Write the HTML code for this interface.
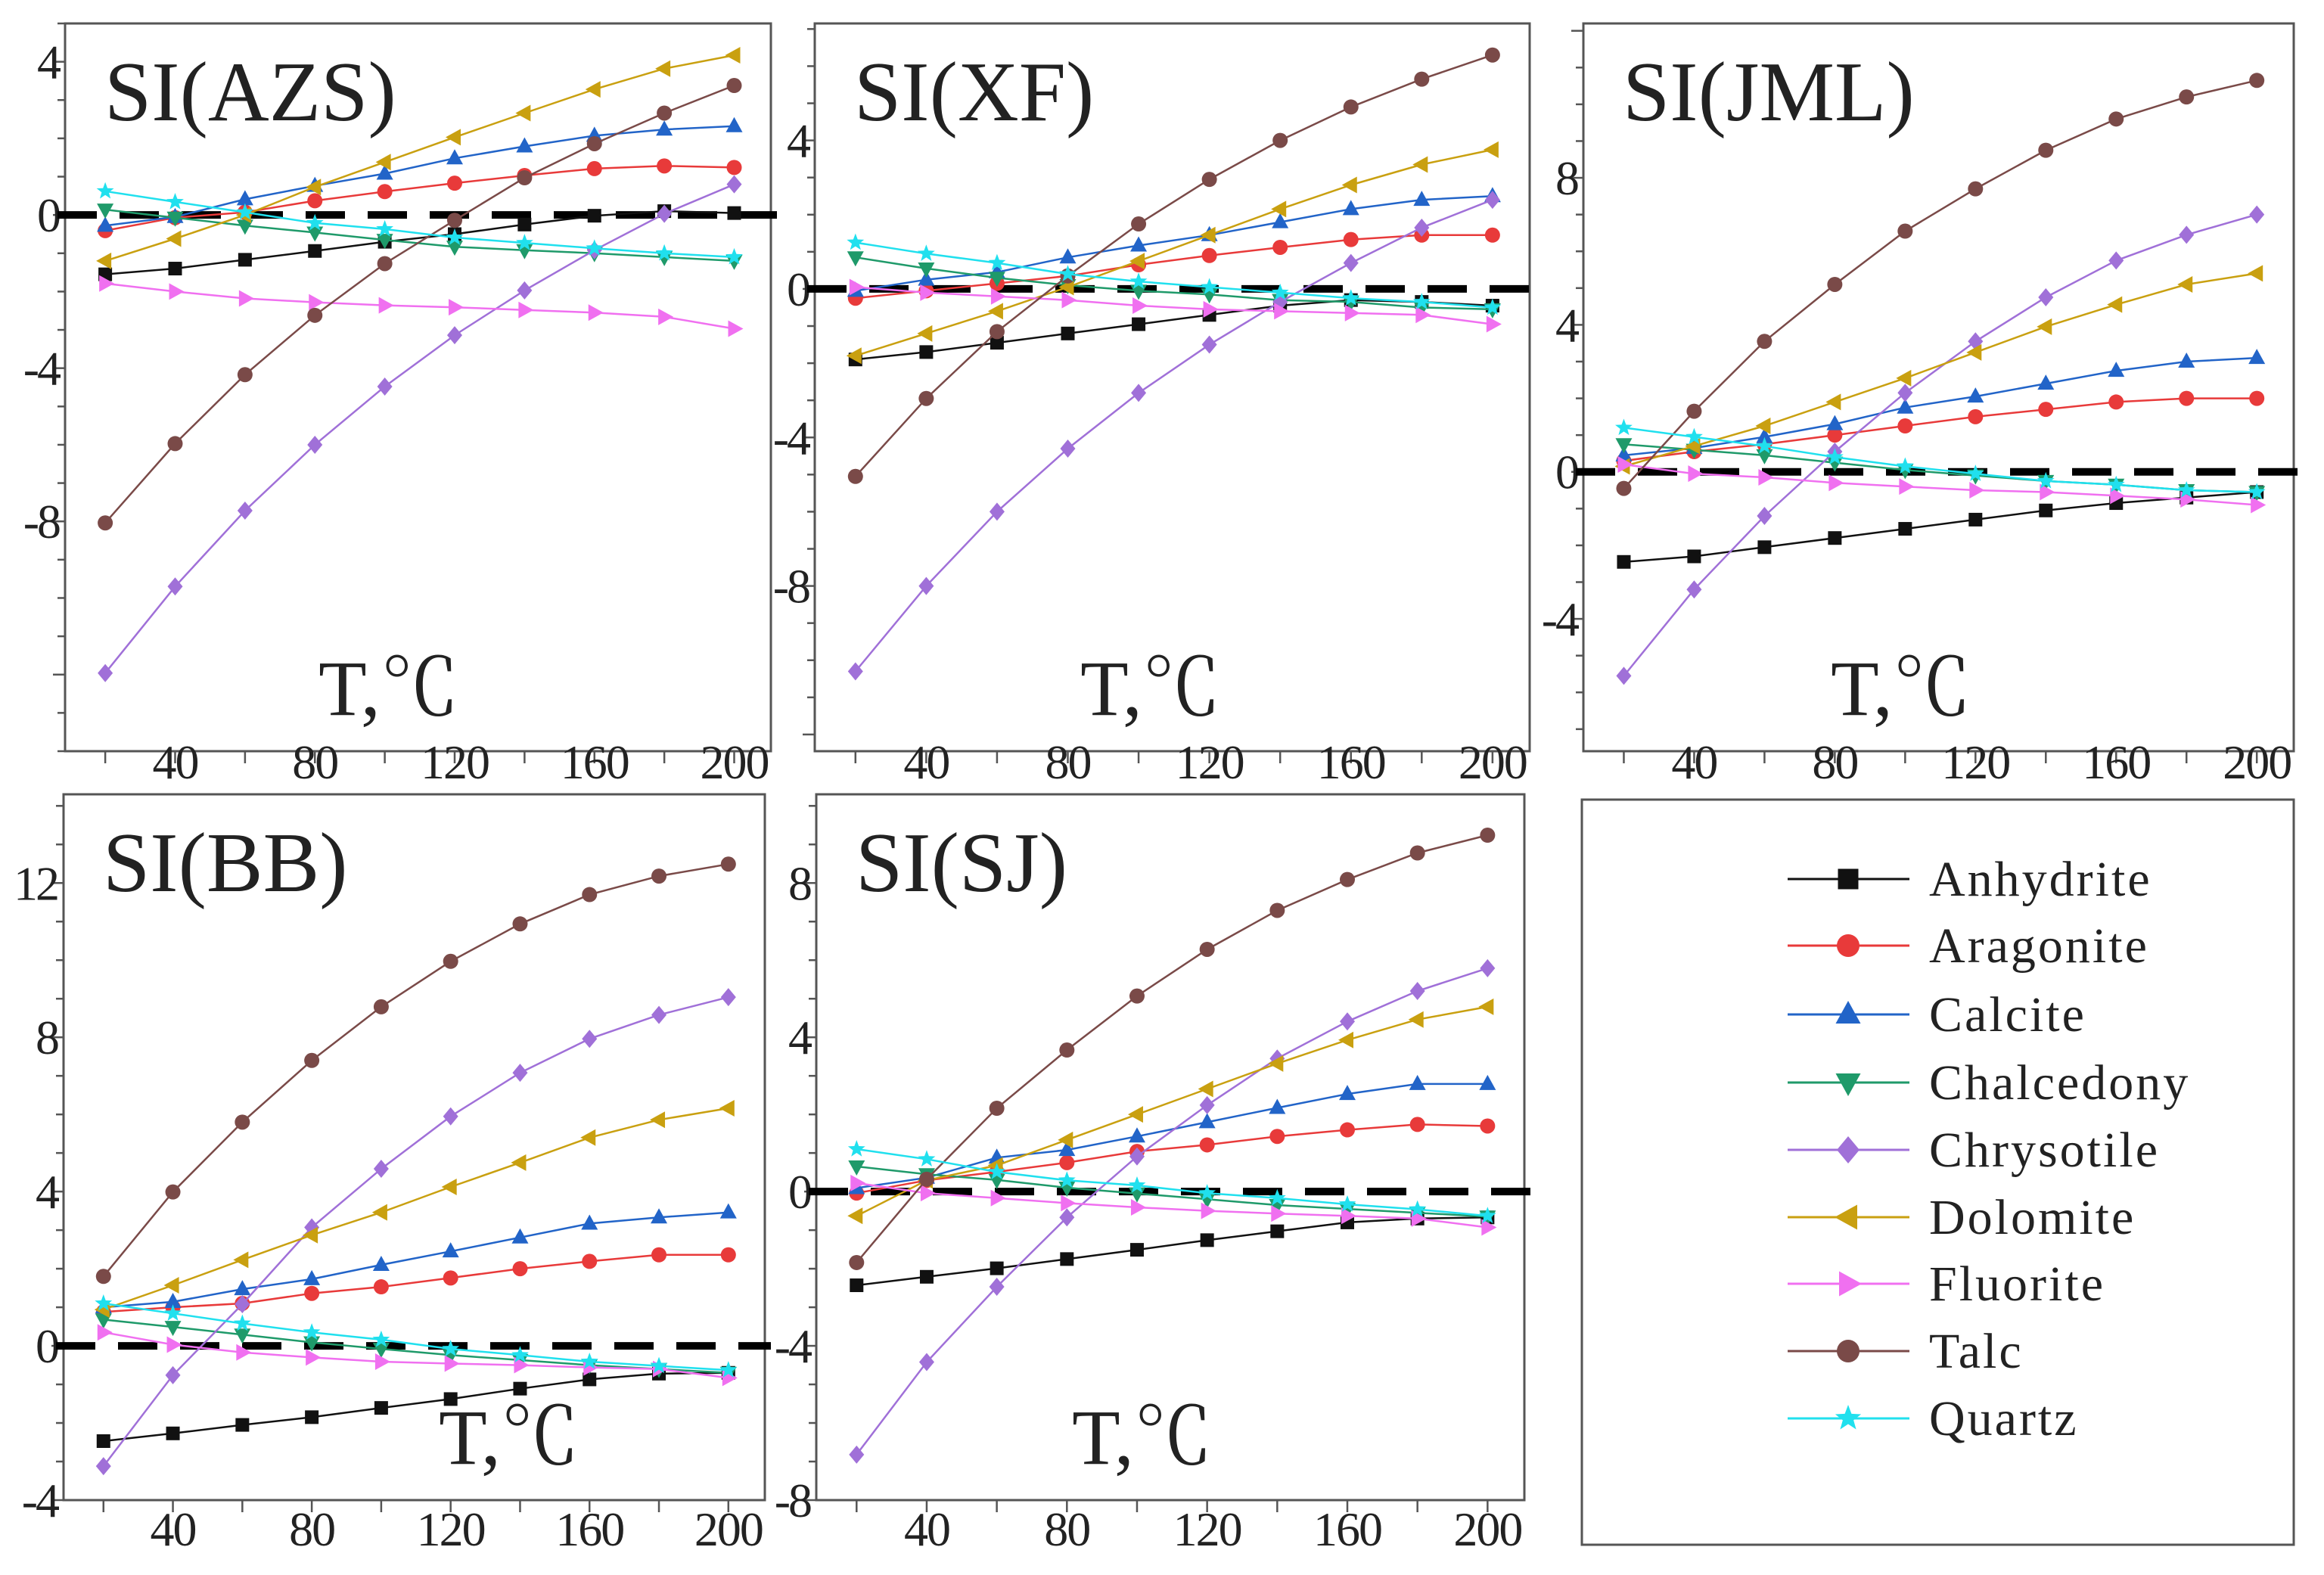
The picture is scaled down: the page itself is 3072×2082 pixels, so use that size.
<!DOCTYPE html>
<html><head><meta charset="utf-8">
<style>
html,body{margin:0;padding:0;background:#fff;}
svg{display:block;}
text{font-family:"Liberation Serif","Noto Serif CJK SC",serif;fill:#222;}
</style></head>
<body>
<svg id="fig" width="3072" height="2082" viewBox="0 0 3072 2082" xmlns="http://www.w3.org/2000/svg"></svg>
<script>
const temps = [20,40,60,80,100,120,140,160,180,200];
const minerals = ["Anhydrite","Aragonite","Calcite","Chalcedony","Chrysotile","Dolomite","Fluorite","Talc","Quartz"];
const xTickLabels = [40,80,120,160,200];
const panelNames = ["SI(AZS)","SI(XF)","SI(JML)","SI(BB)","SI(SJ)"];
const yTickLabelsAZS = [4,0,-4,-8];
const yTickLabelsXF = [4,0,-4,-8];
const yTickLabelsJML = [8,4,0,-4];
const yTickLabelsBB = [12,8,4,0,-4];
const yTickLabelsSJ = [8,4,0,-4,-8];

const azsAnhydrite=[-1.55,-1.4,-1.17,-0.94,-0.7,-0.5,-0.25,-0.02,0.1,0.05];
const azsAragonite=[-0.41,-0.07,0.07,0.37,0.61,0.83,1.03,1.21,1.28,1.24];
const azsCalcite=[-0.28,-0.05,0.41,0.76,1.08,1.48,1.79,2.07,2.23,2.32];
const azsChalcedony=[0.14,-0.07,-0.28,-0.46,-0.65,-0.83,-0.92,-1.0,-1.1,-1.2];
const azsChrysotile=[-11.96,-9.7,-7.72,-6.0,-4.48,-3.14,-1.97,-0.92,0.03,0.8];
const azsDolomite=[-1.2,-0.62,0,0.73,1.38,2.03,2.66,3.28,3.82,4.17];
const azsFluorite=[-1.79,-2.0,-2.18,-2.28,-2.36,-2.41,-2.48,-2.55,-2.66,-2.97];
const azsTalc=[-8.04,-5.97,-4.17,-2.62,-1.27,-0.14,0.97,1.86,2.66,3.38];
const azsQuartz=[0.62,0.34,0.07,-0.21,-0.37,-0.59,-0.73,-0.87,-1.0,-1.1];

const xfAnhydrite=[-1.9,-1.7,-1.45,-1.2,-0.95,-0.7,-0.45,-0.3,-0.35,-0.45];
const xfAragonite=[-0.25,-0.05,0.15,0.35,0.65,0.9,1.12,1.33,1.45,1.45];
const xfCalcite=[-0.05,0.25,0.45,0.85,1.17,1.45,1.8,2.15,2.4,2.5];
const xfChalcedony=[0.85,0.55,0.3,0.1,-0.05,-0.15,-0.3,-0.35,-0.5,-0.55];
const xfChrysotile=[-10.3,-8.0,-6.0,-4.3,-2.8,-1.5,-0.35,0.7,1.65,2.4];
const xfDolomite=[-1.8,-1.2,-0.6,0.05,0.75,1.45,2.15,2.8,3.35,3.75];
const xfFluorite=[0.05,-0.1,-0.2,-0.3,-0.45,-0.55,-0.6,-0.65,-0.7,-0.95];
const xfTalc=[-5.05,-2.95,-1.15,0.35,1.75,2.95,4.0,4.9,5.65,6.3];
const xfQuartz=[1.25,0.95,0.7,0.4,0.2,0.05,-0.1,-0.25,-0.35,-0.5];

const jmlAnhydrite=[-2.45,-2.3,-2.05,-1.8,-1.55,-1.3,-1.05,-0.85,-0.7,-0.55];
const jmlAragonite=[0.3,0.55,0.75,1.0,1.25,1.5,1.7,1.9,2.0,2.0];
const jmlCalcite=[0.45,0.65,0.95,1.3,1.75,2.05,2.4,2.75,3.0,3.1];
const jmlChalcedony=[0.75,0.6,0.45,0.25,0.05,-0.1,-0.25,-0.35,-0.5,-0.55];
const jmlChrysotile=[-5.55,-3.2,-1.2,0.55,2.15,3.55,4.75,5.75,6.45,7.0];
const jmlDolomite=[0.15,0.7,1.25,1.9,2.55,3.25,3.95,4.55,5.1,5.4];
const jmlFluorite=[0.2,-0.05,-0.15,-0.3,-0.4,-0.5,-0.55,-0.65,-0.75,-0.9];
const jmlTalc=[-0.45,1.65,3.55,5.1,6.55,7.7,8.75,9.6,10.2,10.65];
const jmlQuartz=[1.2,0.95,0.7,0.4,0.15,-0.05,-0.25,-0.35,-0.5,-0.55];

const bbAnhydrite=[-2.47,-2.27,-2.05,-1.85,-1.61,-1.38,-1.11,-0.87,-0.72,-0.7];
const bbAragonite=[0.88,1.0,1.1,1.36,1.53,1.76,2.0,2.19,2.36,2.36];
const bbCalcite=[1.0,1.14,1.47,1.73,2.1,2.45,2.81,3.17,3.33,3.46];
const bbChalcedony=[0.68,0.49,0.29,0.09,-0.08,-0.24,-0.37,-0.5,-0.6,-0.7];
const bbChrysotile=[-3.12,-0.76,1.08,3.07,4.59,5.95,7.08,7.96,8.58,9.04];
const bbDolomite=[0.94,1.57,2.23,2.87,3.46,4.12,4.75,5.4,5.86,6.16];
const bbFluorite=[0.35,0.03,-0.17,-0.3,-0.41,-0.46,-0.5,-0.56,-0.6,-0.83];
const bbTalc=[1.8,3.99,5.8,7.4,8.79,9.97,10.94,11.7,12.18,12.49];
const bbQuartz=[1.1,0.84,0.58,0.35,0.16,-0.08,-0.24,-0.41,-0.52,-0.63];

const sjAnhydrite=[-2.43,-2.21,-1.99,-1.75,-1.51,-1.26,-1.03,-0.8,-0.7,-0.67];
const sjAragonite=[-0.04,0.29,0.51,0.75,1.04,1.21,1.43,1.6,1.74,1.7];
const sjCalcite=[0.09,0.36,0.88,1.08,1.43,1.8,2.17,2.53,2.79,2.79];
const sjChalcedony=[0.65,0.45,0.3,0.1,-0.05,-0.2,-0.35,-0.45,-0.55,-0.65];
const sjChrysotile=[-6.82,-4.42,-2.47,-0.67,0.91,2.24,3.45,4.41,5.2,5.79];
const sjDolomite=[-0.63,0.29,0.68,1.34,2.0,2.66,3.32,3.93,4.46,4.79];
const sjFluorite=[0.22,-0.04,-0.17,-0.3,-0.41,-0.5,-0.57,-0.63,-0.7,-0.93];
const sjTalc=[-1.84,0.32,2.16,3.67,5.07,6.28,7.29,8.09,8.78,9.24];
const sjQuartz=[1.1,0.84,0.51,0.29,0.16,-0.04,-0.17,-0.33,-0.46,-0.63];

const NS="http://www.w3.org/2000/svg";
const SERIF='"Liberation Serif","Noto Serif CJK SC",serif';
const svg=document.getElementById('fig');
function mk(tag,attrs,parent){const e=document.createElementNS(NS,tag);for(const k in attrs)e.setAttribute(k,attrs[k]);(parent||svg).appendChild(e);return e;}

const colors=["#111111","#e83a3a","#2264c8","#1f9a6a","#a070d8","#c9a010","#f070f0","#7a4a48","#20e0ee"];
const shapes=["square","circle","up","down","diamond","left","right","circle","star"];

function marker(g,shape,x,y,s,color){
  let e;
  if(shape==="square") e=mk('rect',{x:x-s*0.45,y:y-s*0.45,width:s*0.9,height:s*0.9,fill:color},g);
  else if(shape==="circle") e=mk('circle',{cx:x,cy:y,r:s*0.5,fill:color},g);
  else {
    let pts;
    if(shape==="up") pts=[[x,y-s*0.6],[x+s*0.55,y+s*0.4],[x-s*0.55,y+s*0.4]];
    else if(shape==="down") pts=[[x,y+s*0.6],[x+s*0.55,y-s*0.4],[x-s*0.55,y-s*0.4]];
    else if(shape==="left") pts=[[x-s*0.6,y],[x+s*0.4,y-s*0.55],[x+s*0.4,y+s*0.55]];
    else if(shape==="right") pts=[[x+s*0.6,y],[x-s*0.4,y-s*0.55],[x-s*0.4,y+s*0.55]];
    else if(shape==="diamond") pts=[[x,y-s*0.6],[x+s*0.5,y],[x,y+s*0.6],[x-s*0.5,y]];
    else { pts=[]; for(let i=0;i<10;i++){const r=i%2?s*0.25:s*0.6;const a=-Math.PI/2+i*Math.PI/5;pts.push([x+r*Math.cos(a),y+r*Math.sin(a)]);} }
    e=mk('polygon',{points:pts.map(p=>p.join(',')).join(' '),fill:color},g);
  }
  return e;
}

const panels=[
 {key:"azs",name:panelNames[0],L:86,R:1019,T:31,B:993,ymin:-14,ymax:5,ticks:yTickLabelsAZS,series:[azsAnhydrite,azsAragonite,azsCalcite,azsChalcedony,azsChrysotile,azsDolomite,azsFluorite,azsTalc,azsQuartz],tx:428,lx:36},
 {key:"xf",name:panelNames[1],L:1077,R:2022,T:31,B:993,ymin:-12.45,ymax:7.15,ticks:yTickLabelsXF,series:[xfAnhydrite,xfAragonite,xfCalcite,xfChalcedony,xfChrysotile,xfDolomite,xfFluorite,xfTalc,xfQuartz],tx:444,lx:36},
 {key:"jml",name:panelNames[2],L:2093,R:3032,T:31,B:993,ymin:-7.6,ymax:12.2,ticks:yTickLabelsJML,series:[jmlAnhydrite,jmlAragonite,jmlCalcite,jmlChalcedony,jmlChrysotile,jmlDolomite,jmlFluorite,jmlTalc,jmlQuartz],tx:420,lx:36},
 {key:"bb",name:panelNames[3],L:84,R:1011,T:1050,B:1983,ymin:-4,ymax:14.3,ticks:yTickLabelsBB,series:[bbAnhydrite,bbAragonite,bbCalcite,bbChalcedony,bbChrysotile,bbDolomite,bbFluorite,bbTalc,bbQuartz],tx:589,lx:60},
 {key:"sj",name:panelNames[4],L:1079,R:2015,T:1050,B:1983,ymin:-8,ymax:10.3,ticks:yTickLabelsSJ,series:[sjAnhydrite,sjAragonite,sjCalcite,sjChalcedony,sjChrysotile,sjDolomite,sjFluorite,sjTalc,sjQuartz],tx:431,lx:60}
];
const XMIN=8.5,XMAX=210.5;

panels.forEach(p=>{
  const g=mk('g',{});
  
  
  const sx=v=>p.L+(v-XMIN)/(XMAX-XMIN)*(p.R-p.L);
  const sy=v=>p.B-(v-p.ymin)/(p.ymax-p.ymin)*(p.B-p.T);
  const box=mk('rect',{x:p.L,y:p.T,width:p.R-p.L,height:p.B-p.T,fill:"none",stroke:"#555",'stroke-width':3},g);
  
  
  for(let v=Math.ceil(p.ymin);v<=Math.floor(p.ymax);v++){
    const major=v%4===0;
    mk('line',{x1:p.L-(major?16:10),x2:p.L,y1:sy(v),y2:sy(v),stroke:"#555",'stroke-width':2.5},g);
  }
  p.ticks.forEach(v=>{
    const t=mk('text',{x:p.L-8,y:sy(v)+22,'text-anchor':'end','font-size':64,'letter-spacing':-3,'font-family':SERIF},g);
    t.textContent=String(v);
    
    
  });
  temps.forEach(v=>{
    mk('line',{x1:sx(v),x2:sx(v),y1:p.B,y2:p.B+16,stroke:"#555",'stroke-width':2.5},g);
  });
  xTickLabels.forEach(v=>{
    const t=mk('text',{x:sx(v),y:p.B+p.lx,'text-anchor':'middle','font-size':64,'letter-spacing':-2,'font-family':SERIF},g);
    t.textContent=String(v);
    
    
  });
  const z=mk('line',{x1:p.L-10,x2:p.R+8,y1:sy(0),y2:sy(0),stroke:"#000",'stroke-width':10,'stroke-dasharray':'52 30'},g);
  
  
  p.series.forEach((vals,i)=>{
    const sg=mk('g',{},g);
    
    
    const d=vals.map((v,j)=>(j?'L':'M')+sx(temps[j]).toFixed(1)+','+sy(v).toFixed(1)).join(' ');
    mk('path',{d:d,fill:'none',stroke:colors[i],'stroke-width':2.5},sg);
    vals.forEach((v,j)=>{
      const m=marker(sg,shapes[i],sx(temps[j]),sy(v),20,colors[i]);
      
      
    });
  });
  const tt=mk('text',{x:p.L+52,y:p.T+128,'font-size':112,'font-family':SERIF},g);
  tt.textContent=p.name;
  
  
  const xl=mk('text',{x:p.L+p.tx,y:p.B-48,'text-anchor':'middle','font-size':104,'font-family':SERIF},g);
  xl.textContent="T,℃";
  
  
});

const lg=mk('g',{});


mk('rect',{x:2091,y:1057,width:941,height:985,fill:'none',stroke:'#555','stroke-width':3},lg);
const legendY=[1162,1250,1341,1431,1520,1609,1697,1786,1875];
minerals.forEach((m,i)=>{
  const eg=mk('g',{},lg);
  
  
  const y=legendY[i];
  mk('line',{x1:2363,x2:2524,y1:y,y2:y,stroke:colors[i],'stroke-width':3},eg);
  marker(eg,shapes[i],2443,y,30,colors[i]);
  const t=mk('text',{x:2550,y:y+22,'font-size':66,'letter-spacing':3,'font-family':SERIF},eg);
  t.textContent=m;
});
</script>
</body></html>
